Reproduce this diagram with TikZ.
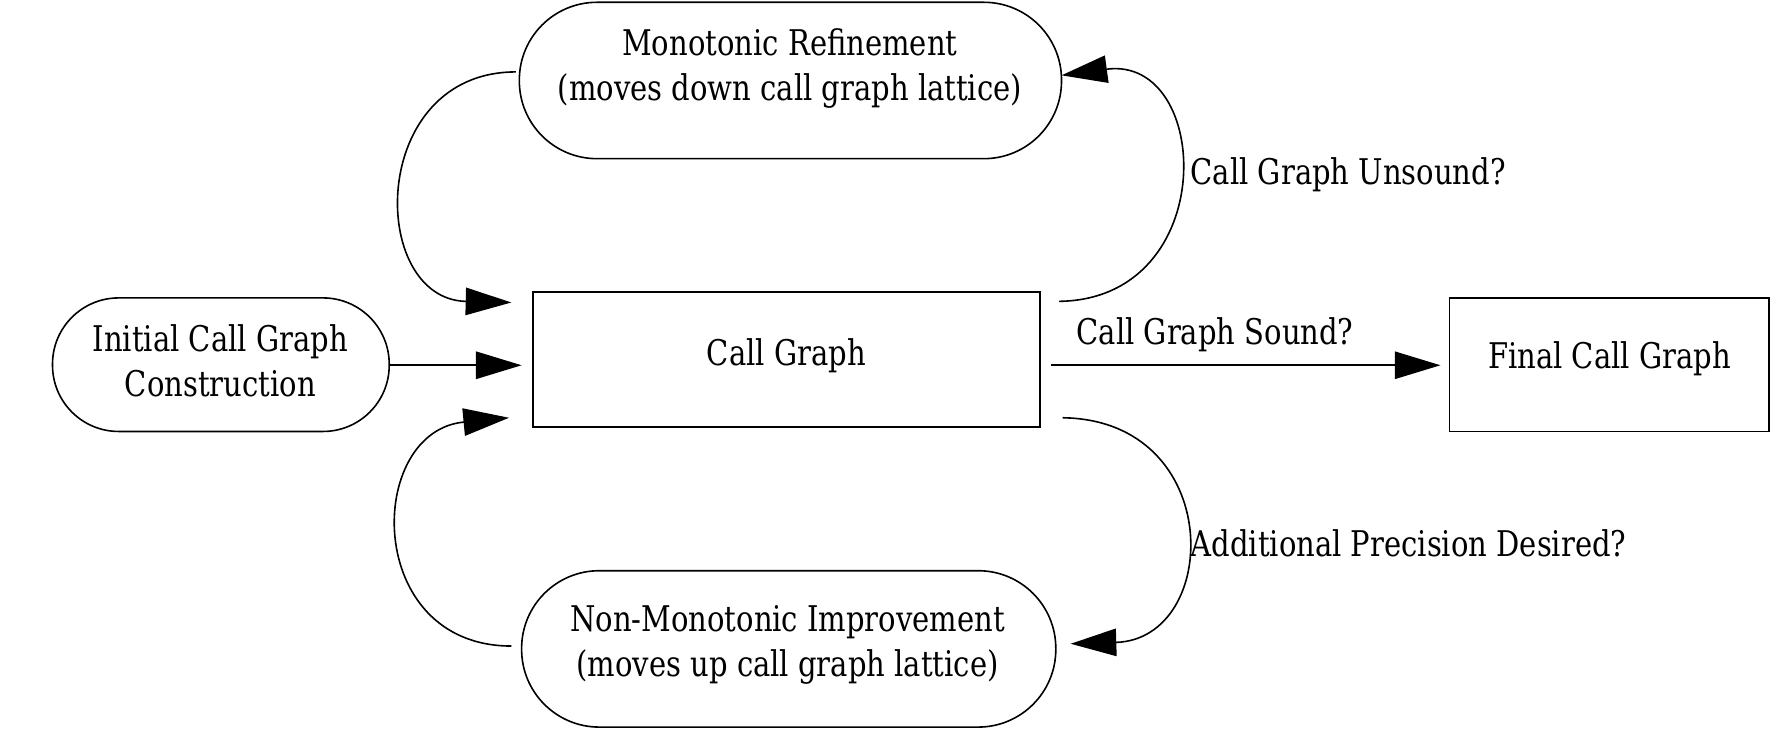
\documentclass[tikz,border=0pt]{standalone}
\usepackage{fontspec}
\setmainfont{DejaVu Serif}[FakeStretch=0.82]
\usetikzlibrary{arrows.meta}
\begin{document}
\begin{tikzpicture}[x=1pt,y=-1pt,
  every node/.style={font=\fontsize{31}{40}\selectfont, align=center, inner sep=0pt},
  stad/.style={draw, line width=1.4pt, rounded corners=68pt},
  box/.style={draw, line width=1.4pt},
  arr/.style={line width=1.4pt, -{Triangle[length=40pt,width=24pt]}},
  lab/.style={anchor=west}]
\useasboundingbox (0,0) rectangle (1570,657);
\draw[stad] (455,2) rectangle (930,139);
\node (mono) at (692,60) {Monotonic Refinement\\(moves down call graph lattice)};
\draw[box] (467,256) rectangle (911,374);
\node (cg) at (689,312) {Call Graph};
\draw[stad, rounded corners=58pt] (46,261) rectangle (341,378);
\node (init) at (193,316) {Initial Call Graph\\Construction};
\draw[box] (1270,261) rectangle (1550,378);
\node (fin) at (1410,314) {Final Call Graph};
\draw[stad] (457,500) rectangle (925,637);
\node (non) at (690,565) {Non-Monotonic Improvement\\(moves up call graph lattice)};
\coordinate (a1) at (341,320); \coordinate (a2) at (457,320);
\coordinate (b1) at (921,320); \coordinate (b2) at (1262,320);
\coordinate (c1) at (928,264); \coordinate (c2) at (930,66);
\coordinate (d1) at (452,63); \coordinate (d2) at (448,265);
\coordinate (e1) at (448,566); \coordinate (e2) at (446,366);
\coordinate (f1) at (931,366); \coordinate (f2) at (938,564);
\draw[arr] (a1) -- (a2);
\draw[arr] (b1) -- (b2);
\node[lab] at (943,293) {Call Graph Sound?};
\draw[arr] (c1) .. controls (1070,262) and (1062,48) .. (c2);
\node[lab] at (1043,153) {Call Graph Unsound?};
\draw[arr] (d1) .. controls (322,63) and (322,262) .. (d2);
\draw[arr] (e1) .. controls (318,566) and (320,378) .. (e2);
\draw[arr] (f1) .. controls (1074,368) and (1070,560) .. (f2);
\node[lab] at (1043,476) {Additional Precision Desired?};
\end{tikzpicture}
\end{document}
